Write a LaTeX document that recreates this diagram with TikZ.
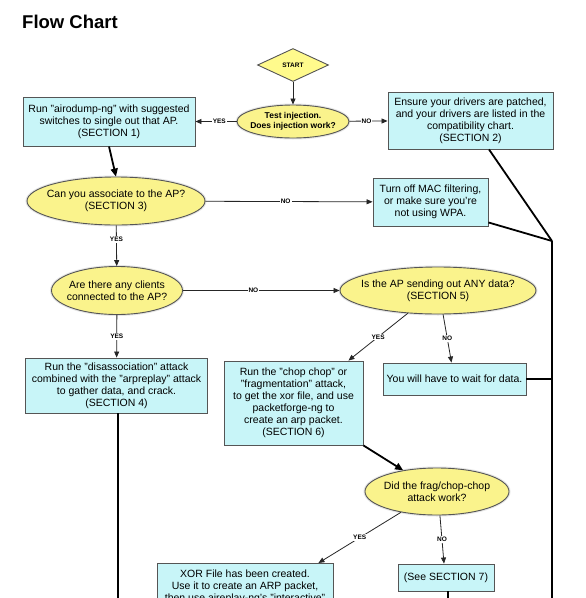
\documentclass[tikz,border=0pt]{standalone}
\usepackage{fontspec}
\setmainfont{Liberation Sans}
\usepackage{tikz}
\usetikzlibrary{arrows.meta,calc,shapes.geometric}
\definecolor{BoxFill}{RGB}{200,245,248}
\definecolor{Decision}{RGB}{250,243,140}
\definecolor{StartFill}{RGB}{255,250,140}
\definecolor{Edge}{RGB}{85,85,85}

\tikzset{
  box/.style={draw=Edge, fill=BoxFill, line width=0.9pt, inner sep=0pt,
    align=center, font=\fontsize{10.5}{11.9}\selectfont},
  decision/.style={ellipse, draw=Edge, fill=Decision, line width=0.9pt,
    preaction={draw=black!10, line width=3pt},
    inner xsep=-12pt, inner ysep=0pt, align=center, font=\fontsize{10.5}{11.9}\selectfont},
  branch/.style={draw=black!85, line width=0.8pt, -{Triangle[length=6pt,width=5pt]}},
  heavy/.style={line width=1.8pt, -{Triangle[length=8pt,width=7pt]}},
  feed/.style={line width=1.8pt},
  answer/.style={fill=white, inner sep=1pt, font=\bfseries\fontsize{6.5}{7}\selectfont},
}

\begin{document}
\begin{tikzpicture}[x=1pt, y=-1pt]
    %% Page
    \useasboundingbox (0,0) rectangle (586,598);
    \clip (0,0) rectangle (586,598);
    \fill[white] (0,0) rectangle (586,598);

    %% Title
    \node[anchor=base west, inner sep=0pt, font=\bfseries\fontsize{18.5}{22}\selectfont]
        (title) at (22,28) {Flow Chart};

    %% Start and injection test
    \node[diamond, draw=Edge, fill=StartFill, line width=0.9pt, minimum width=71pt,
        minimum height=33pt, inner sep=0pt, font=\bfseries\fontsize{6.5}{7}\selectfont]
        (start) at (293,65) {START};
    \node[decision, minimum width=112pt, minimum height=33pt,
        font=\bfseries\fontsize{8.5}{10.5}\selectfont]
        (inj) at (293,121.5) {Test injection.\\Does injection work?};
    \node[box, minimum width=172pt, minimum height=49pt] (sec1) at (109,121.5)
        {Run "airodump-ng" with suggested\\switches to single out that AP.\\(SECTION 1)};
    \node[box, minimum width=165pt, minimum height=57pt] (sec2) at (470.5,120.5)
        {Ensure your drivers are patched,\\and your drivers are listed in the\\compatibility chart.\\(SECTION 2)};

    %% Association
    \node[decision, minimum width=178pt, minimum height=48pt] (assoc) at (116,201)
        {Can you associate to the AP?\\(SECTION 3)};
    \node[box, minimum width=115pt, minimum height=48pt] (mac) at (430.5,202)
        {Turn off MAC filtering,\\or make sure you're\\not using WPA.};

    %% Clients and data
    \node[decision, minimum width=131pt, minimum height=48pt] (clients) at (117,290.5)
        {Are there any clients\\connected to the AP?};
    \node[decision, minimum width=196pt, minimum height=47pt] (sec5) at (438,290.5)
        {Is the AP sending out ANY data?\\(SECTION 5)};
    \node[box, minimum width=182pt, minimum height=55pt] (sec4) at (116.5,385.5)
        {Run the "disassociation" attack\\combined with the "arpreplay" attack\\to gather data, and crack.\\(SECTION 4)};
    \node[box, minimum width=139pt, minimum height=84pt] (chop) at (293.5,403)
        {Run the "chop chop" or\\"fragmentation" attack,\\to get the xor file, and use\\packetforge-ng to\\create an arp packet.\\(SECTION 6)};
    \node[box, minimum width=143pt, minimum height=32pt] (wait) at (454.5,379)
        {You will have to wait for data.};

    %% Fragmentation result
    \node[decision, minimum width=144pt, minimum height=47pt] (frag) at (437,491.5)
        {Did the frag/chop-chop\\attack work?};
    \node[box, anchor=north, minimum width=176pt, minimum height=60pt, inner ysep=4pt]
        (xor) at (245,563)
        {XOR File has been created.\\Use it to create an ARP packet,\\then use aireplay-ng's "interactive"\\\strut};
    \node[box, minimum width=96pt, minimum height=27pt] (sec7) at (446,577.5)
        {(See SECTION 7)};

    %% Free ends
    \coordinate (corner) at (552,241);
    \coordinate (railend) at (552,612);
    \coordinate (s4end) at (118,612);
    \coordinate (s7end) at (448,612);

    %% Connectors
    \draw[branch] (start) -- (inj);
    \draw[branch] (inj) -- node[answer, pos=0.42]{YES} (sec1);
    \draw[branch] (inj) -- node[answer, pos=0.45]{NO} (sec2);
    \draw[heavy] (sec1.south) -- (assoc.north);
    \draw[branch] (assoc) -- node[answer, pos=0.48]{NO} (mac);
    \draw[branch] (assoc) -- node[answer, pos=0.35]{YES} (clients);
    \draw[branch] (clients) -- node[answer]{YES} (sec4);
    \draw[branch] (clients) -- node[answer, pos=0.45]{NO} (sec5);
    \draw[branch] (sec5.217) -- node[answer]{YES} ([xshift=-15pt]chop.north east);
    \draw[branch] (sec5.-78) -- node[answer]{NO} ([xshift=-3pt]wait.north);
    \draw[heavy] (chop.south east) -- (frag.148);
    \draw[branch] (frag.210) -- node[answer]{YES} ([xshift=-15pt]xor.north east);
    \draw[branch] (frag.-83) -- node[answer]{NO} ([xshift=-2pt]sec7.north);

    %% Right rail and open ends
    \draw[feed] ([xshift=18.5pt]sec2.south) -- (corner);
    \draw[feed] ([yshift=4pt]mac.south east) -- (corner);
    \draw[feed] (corner) -- (railend);
    \draw[feed] (wait.east) -- (wait.east -| corner);
    \draw[feed] ([xshift=1.5pt]sec4.south) -- (s4end);
    \draw[feed] ([xshift=2pt]sec7.south) -- (s7end);
\end{tikzpicture}
\end{document}
